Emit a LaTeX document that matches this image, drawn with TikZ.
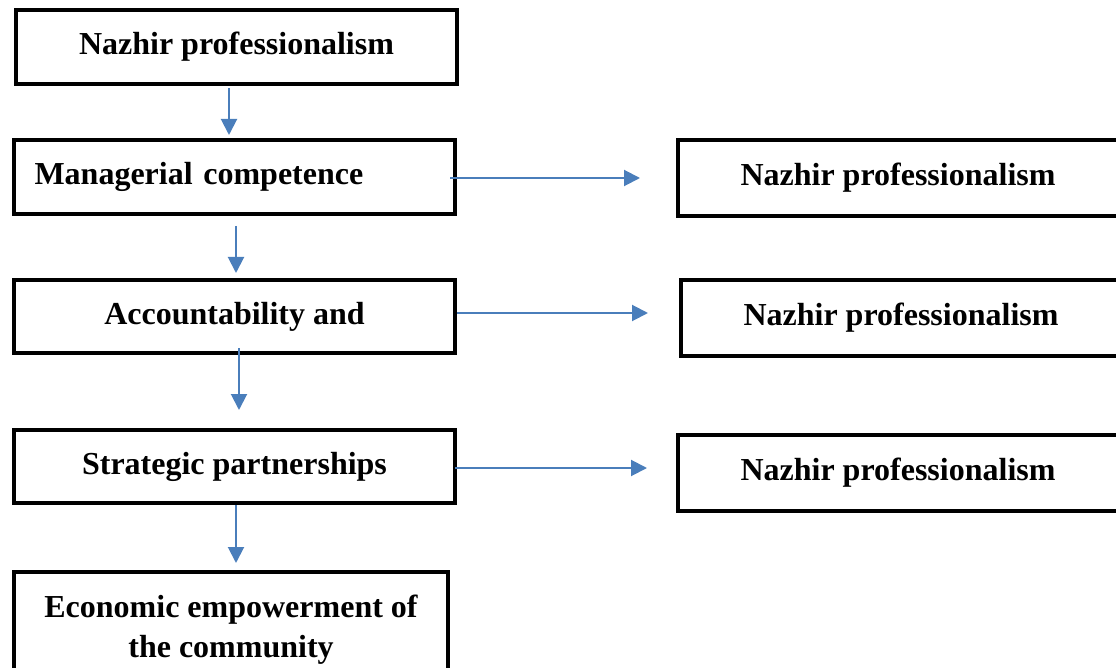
\documentclass[tikz,border=0pt]{standalone}
\usepackage{fontspec}
\setmainfont{Liberation Serif}
\usetikzlibrary{
  arrows.meta,
  positioning
}
\definecolor{flowblue}{HTML}{4A7EBB}

\begin{document}
\begin{tikzpicture}[
      box/.style={
        rectangle, draw=black, line width=4pt,
        minimum width=441pt, minimum height=74pt, inner sep=0pt,
        font=\fontsize{32}{40}\selectfont\bfseries, align=center
      },
      sidebox/.style={box, minimum width=440pt, minimum height=76pt},
      arrow/.style={-{Triangle[length=16pt, width=16pt]}, line width=2pt, flowblue}
    ]
      \useasboundingbox (0,0) rectangle (1116pt,-668pt);
      \clip (0,0) rectangle (1116pt,-668pt);

      % Main column
      \node[box, anchor=north west] (prof) at (14pt,-8pt) {Nazhir professionalism};
      \node[box, below=52pt of prof.south west, anchor=north west, xshift=-2pt,
            text width=400pt, align=left] (manage) {Managerial competence};
      \node[box, below=62pt of manage.south west, anchor=north west,
            minimum height=73pt] (account) {Accountability and};
      \node[box, below=73pt of account.south west, anchor=north west,
            minimum height=73pt] (partner) {Strategic partnerships};
      \node[box, below=65pt of partner.south west, anchor=north west,
            minimum width=434pt, minimum height=116pt] (empower) {Economic empowerment of\\the community};

      % Side column
      \node[sidebox, right=219pt of manage.north east, anchor=north west] (profA) {Nazhir professionalism};
      \node[sidebox, right=222pt of account.north east, anchor=north west] (profB) {Nazhir professionalism};
      \node[sidebox, right=219pt of partner.north east, anchor=north west, yshift=-5pt] (profC) {Nazhir professionalism};

      % Arrows down
      \draw[arrow, shorten <=2pt, shorten >=3pt] ([xshift=-7.5pt]prof.south) -- ([xshift=-7.5pt]prof.south |- manage.north);
      \draw[arrow, shorten <=10pt, shorten >=5pt] ([xshift=1.5pt]manage.south) -- ([xshift=1.5pt]manage.south |- account.north);
      \draw[arrow, shorten <=-7pt, shorten >=18pt] ([xshift=4.5pt]account.south) -- ([xshift=4.5pt]account.south |- partner.north);
      \draw[arrow, shorten >=7pt] ([xshift=1.5pt]partner.south) -- ([xshift=1.5pt]partner.south |- empower.north);

      % Arrows right
      \draw[arrow, shorten <=-7pt, shorten >=36pt] ([yshift=-1pt]manage.east) -- ([yshift=-1pt]manage.east -| profA.west);
      \draw[arrow, shorten >=31pt] ([yshift=3.5pt]account.east) -- ([yshift=3.5pt]account.east -| profB.west);
      \draw[arrow, shorten <=-2pt, shorten >=29pt] ([yshift=-1.5pt]partner.east) -- ([yshift=-1.5pt]partner.east -| profC.west);
    \end{tikzpicture}
\end{document}
